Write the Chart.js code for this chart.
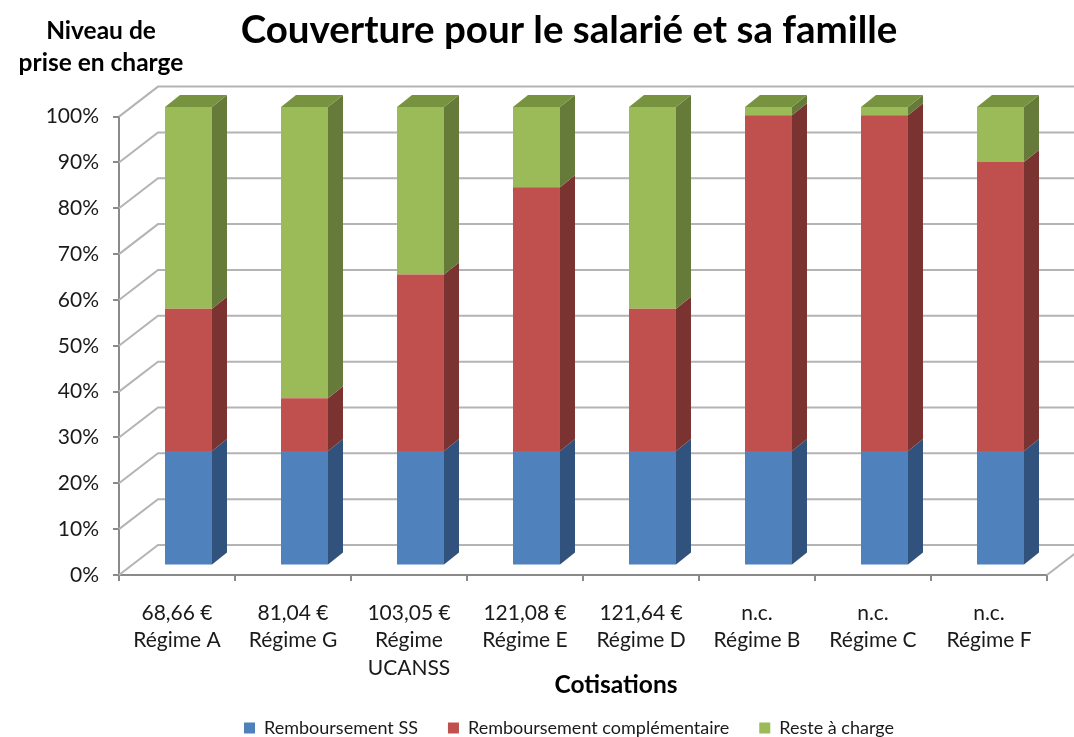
<!DOCTYPE html>
<html lang="fr">
<head>
<meta charset="utf-8">
<title>Couverture pour le salarié et sa famille</title>
<script src="https://cdn.jsdelivr.net/npm/chart.js@4/dist/chart.umd.min.js"></script>
<style>
  html, body { margin: 0; padding: 0; background: #fff; }
  canvas { display: block; }
</style>
</head>
<body>
<canvas id="chart" width="1074" height="737"></canvas>
<script>
const categories = [
    ['68,66 €', 'Régime A'],
    ['81,04 €', 'Régime G'],
    ['103,05 €', 'Régime', 'UCANSS'],
    ['121,08 €', 'Régime E'],
    ['121,64 €', 'Régime D'],
    ['n.c.', 'Régime B'],
    ['n.c.', 'Régime C'],
    ['n.c.', 'Régime F']
];
const remboursementSS = [25, 25, 25, 25, 25, 25, 25, 25];
const remboursementComplementaire = [31, 11.5, 38.5, 57.5, 31, 73.2, 73.2, 63];
const resteACharge = [44, 63.5, 36.5, 17.5, 44, 1.8, 1.8, 12];

const seriesNames = ['Remboursement SS', 'Remboursement complémentaire', 'Reste à charge'];
const titleText = 'Couverture pour le salarié et sa famille';
const yAxisTitle = ['Niveau de', 'prise en charge'];
const xAxisTitle = 'Cotisations';

const FONT = 'Lato, Carlito, sans-serif';
const frontColors = ['#4f81bd', '#c0504d', '#9bbb59'];
const sideColors = ['#31527c', '#7b3331', '#667a3a'];
const topColor = '#77933f';
const wallColor = '#b4b4b4';
const axisColor = '#8a8a8a';

// depth of the chart box, and how far the bars sit inside it
const WALL_DX = 39, WALL_DY = -30;
const BAR_DX = 11.5, BAR_DY = -9.5;
const SIDE_DX = 15, SIDE_DY = -12;

function face(ctx, color, pts) {
    ctx.fillStyle = color;
    ctx.beginPath();
    pts.forEach((p, i) => i ? ctx.lineTo(p[0], p[1]) : ctx.moveTo(p[0], p[1]));
    ctx.closePath();
    ctx.fill();
}

const box3d = {
    id: 'box3d',
    afterLayout(chart) {
        // tick labels are clipped to the scale box, let them use the left margin
        chart.scales.y.left = 0;
    },
    beforeDatasetsDraw(chart) {
        const ctx = chart.ctx;
        const area = chart.chartArea;
        const y = chart.scales.y;

        ctx.save();
        ctx.strokeStyle = wallColor;
        ctx.lineWidth = 2;
        y.ticks.forEach(t => {
            const py = y.getPixelForValue(t.value);
            ctx.beginPath();
            ctx.moveTo(area.left, py);
            ctx.lineTo(area.left + WALL_DX, py + WALL_DY);
            ctx.lineTo(area.right + WALL_DX, py + WALL_DY);
            ctx.stroke();
        });
        // right edge of the floor
        ctx.beginPath();
        ctx.moveTo(area.right, area.bottom);
        ctx.lineTo(area.right + WALL_DX, area.bottom + WALL_DY);
        ctx.stroke();

        // restored in afterDatasetsDraw, the bars are drawn inside this shift
        ctx.translate(BAR_DX, BAR_DY);
        chart.data.datasets.forEach((ds, i) => {
            chart.getDatasetMeta(i).data.forEach(bar => {
                const right = bar.x + bar.width / 2;
                const left = bar.x - bar.width / 2;
                face(ctx, sideColors[i], [
                    [right, bar.y],
                    [right + SIDE_DX, bar.y + SIDE_DY],
                    [right + SIDE_DX, bar.base + SIDE_DY],
                    [right, bar.base]
                ]);
                if (i === chart.data.datasets.length - 1) {
                    face(ctx, topColor, [
                        [left, bar.y],
                        [left + SIDE_DX, bar.y + SIDE_DY],
                        [right + SIDE_DX, bar.y + SIDE_DY],
                        [right, bar.y]
                    ]);
                }
            });
        });
    },
    afterDatasetsDraw(chart) {
        chart.ctx.restore();
    },
    afterDraw(chart) {
        const ctx = chart.ctx;
        ctx.save();
        ctx.fillStyle = '#000';
        ctx.textAlign = 'center';
        ctx.textBaseline = 'middle';
        ctx.font = 'bold 24.5px ' + FONT;
        ctx.fillText(yAxisTitle[0], 101, 31);
        ctx.fillText(yAxisTitle[1], 101, 63);
        ctx.fillText(xAxisTitle, 616, 685);
        ctx.restore();
    }
};

new Chart(document.getElementById('chart').getContext('2d'), {
    type: 'bar',
    data: {
        labels: categories,
        datasets: [remboursementSS, remboursementComplementaire, resteACharge].map((values, i) => ({
            label: seriesNames[i],
            data: values,
            backgroundColor: frontColors[i],
            borderWidth: 0,
            clip: false,
            barPercentage: 0.405,
            categoryPercentage: 1
        }))
    },
    plugins: [box3d],
    options: {
        responsive: false,
        animation: false,
        layout: { padding: { left: 64, right: 0, top: 0, bottom: -10 } },
        plugins: {
            tooltip: { enabled: false },
            title: {
                display: true,
                text: titleText,
                color: '#000',
                font: { family: FONT, size: 38.5, weight: 'bold', lineHeight: 1.2 },
                padding: { top: 7, bottom: 63.4 }
            },
            legend: {
                position: 'bottom',
                labels: {
                    color: '#1a1a1a',
                    font: { family: FONT, size: 18 },
                    boxWidth: 11,
                    boxHeight: 11,
                    padding: 30
                }
            }
        },
        scales: {
            x: {
                stacked: true,
                afterFit(s) { s.height = 114; },
                grid: { drawOnChartArea: false, color: axisColor, lineWidth: 2, tickLength: 6 },
                border: { color: axisColor, width: 2 },
                ticks: {
                    autoSkip: false,
                    maxRotation: 0,
                    padding: 18,
                    color: '#1a1a1a',
                    font: { family: FONT, size: 21, lineHeight: 1.31 }
                }
            },
            y: {
                stacked: true,
                min: 0,
                max: 100,
                afterFit(s) { s.width = 55; },
                grid: { drawOnChartArea: false, color: axisColor, lineWidth: 2, tickLength: 6 },
                border: { color: axisColor, width: 2 },
                ticks: {
                    stepSize: 10,
                    padding: 14,
                    color: '#1a1a1a',
                    font: { family: FONT, size: 21 },
                    callback: v => v + '%'
                }
            },
            // empty axis, only holds the margin on the right of the plot
            rightMargin: {
                type: 'linear',
                axis: 'y',
                position: 'right',
                afterFit(s) { s.width = 27; },
                grid: { display: false },
                border: { display: false },
                ticks: { display: false }
            }
        }
    }
});
</script>
</body>
</html>
